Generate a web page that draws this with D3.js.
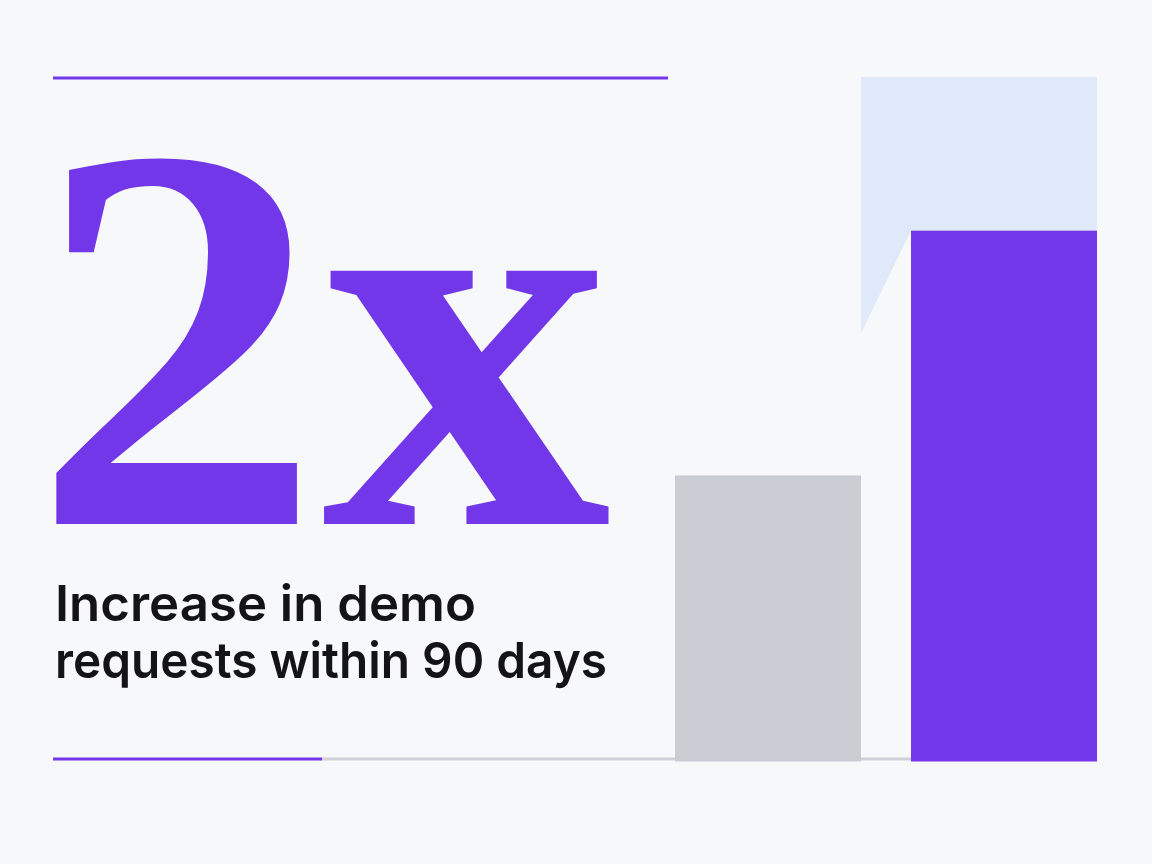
<!DOCTYPE html>
<html>
<head>
<meta charset="utf-8">
<script src="https://cdn.jsdelivr.net/npm/d3@7"></script>
<style>
  html, body { margin: 0; padding: 0; background: #f7f8f9; }
  svg { display: block; }
</style>
</head>
<body>
<script>
// Data
const categories = ["Before", "After"];
const values = [100, 186];
const barColors = ["#cbcdd5", "#7137e8"];
// light "target" area behind the bars (top value, low value of the slanted edge)
const ghostValues = [240, 150];
const bigLabel = "2x";
const captionLines = ["Increase in demo", "requests within 90 days"];

const w = 1152;
const h = 864;
const purple = "#7137e8";
// rendered widths of the two caption lines
const captionWidths = [421, 552];

const svg = d3.select("body")
    .append("svg")
    .attr("width", w)
    .attr("height", h);

svg.append("rect")
    .attr("width", w)
    .attr("height", h)
    .attr("fill", "#f7f8f9");

// Scales
const xScale = d3.scaleBand()
    .domain(categories)
    .range([675, 1097])
    .paddingInner(0.212)
    .paddingOuter(0);

const yScale = d3.scaleLinear()
    .domain([0, 240])
    .range([760, 77]);

// Top rule
svg.append("rect")
    .attr("x", 53)
    .attr("y", 76.5)
    .attr("width", 615)
    .attr("height", 3)
    .attr("fill", purple);

// Ghost target shape
const bx1 = xScale("Before") + xScale.bandwidth();
const ax0 = xScale("After");
const ax1 = ax0 + xScale.bandwidth();
const ghostPts = [
    [bx1, yScale(ghostValues[0])],
    [ax1, yScale(ghostValues[0])],
    [ax1, yScale(values[1])],
    [ax0, yScale(values[1])],
    [bx1, yScale(ghostValues[1])]
];
svg.append("path")
    .attr("d", d3.line()(ghostPts) + "Z")
    .attr("fill", "#dfe9f9");

// Baseline
svg.append("rect")
    .attr("x", 322)
    .attr("y", 757.5)
    .attr("width", ax0 - 322)
    .attr("height", 3)
    .attr("fill", "#d0d1d8");
svg.append("rect")
    .attr("x", 53)
    .attr("y", 757.5)
    .attr("width", 269)
    .attr("height", 3)
    .attr("fill", purple);

// Bars
svg.selectAll("rect.bar")
    .data(categories)
    .enter()
    .append("rect")
    .attr("class", "bar")
    .attr("x", d => xScale(d))
    .attr("y", (d, i) => yScale(values[i]))
    .attr("width", xScale.bandwidth())
    .attr("height", (d, i) => yScale(0) - yScale(values[i]) + 1.5)
    .attr("fill", (d, i) => barColors[i]);

// Big number (a bit stretched sideways like the reference face)
svg.append("text")
    .text(bigLabel)
    .attr("transform", "translate(32,524) scale(1.05,1)")
    .attr("font-family", "'Liberation Serif', serif")
    .attr("font-weight", "bold")
    .attr("font-size", 552)
    .attr("fill", purple);

// Caption
svg.selectAll("text.caption")
    .data(captionLines)
    .enter()
    .append("text")
    .attr("class", "caption")
    .text(d => d)
    .attr("x", 55)
    .attr("y", (d, i) => 621 + i * 57)
    .attr("textLength", (d, i) => captionWidths[i])
    .attr("lengthAdjust", "spacingAndGlyphs")
    .attr("font-family", "Inter, sans-serif")
    .attr("font-weight", 600)
    .attr("font-size", 50)
    .attr("fill", "#141418");
</script>
</body>
</html>
